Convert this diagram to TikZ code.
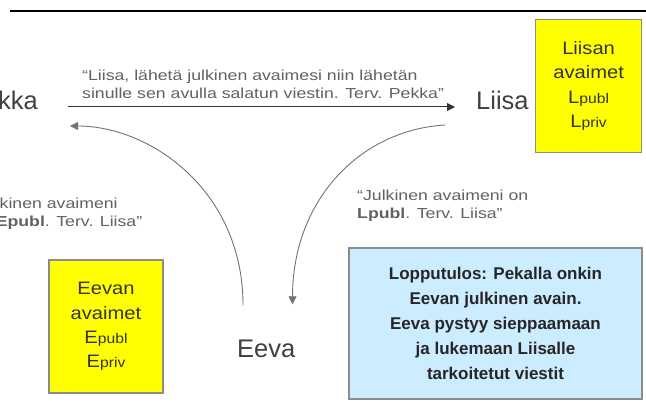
\documentclass[tikz,border=0pt]{standalone}
\usepackage{fontspec}
\setmainfont{Liberation Sans}
\newfontfamily\quotefont[FakeStretch=1.22]{Liberation Sans}
\newfontfamily\keyfont[FakeStretch=1.12]{Liberation Sans}
\usetikzlibrary{arrows.meta,positioning}
\definecolor{keyyellow}{HTML}{FFFF00}
\definecolor{resultblue}{HTML}{CCECFF}
\definecolor{framegray}{HTML}{8C8C8C}
\newcommand{\keyidx}[1]{{\fontsize{14}{14}\selectfont #1}}

\begin{document}
\begin{tikzpicture}[x=1pt,y=-1pt,>={Triangle[length=8pt,width=8pt]}, every node/.style={inner sep=0pt}]
\tikzstyle{person}=[font=\fontsize{25.5}{30}\selectfont,text=black!75]
\tikzstyle{quote}=[font=\quotefont\fontsize{14.5}{18}\selectfont,text=black!62,align=left]
\tikzstyle{keybox}=[draw=framegray,line width=1.5pt,fill=keyyellow,align=center,minimum height=133pt,font=\keyfont\fontsize{18}{24.3}\selectfont,text=black!80]
\tikzstyle{resultbox}=[draw=framegray,line width=1.5pt,fill=resultblue,align=center,minimum width=293pt,minimum height=151pt,font=\bfseries\fontsize{17}{25}\selectfont,text=black!85]
\useasboundingbox (0,0) rectangle (646,406);
\clip (0,0) rectangle (646,406);
\draw[line width=2pt] (10,11) -- (646,11);

% osapuolet
\node[person,anchor=base east] (pekka) at (38,110) {Pekka};
\node[person,anchor=base west] (liisa) at (476,110) {Liisa};
\node[person,anchor=base west] (eeva) at (237,358) {Eeva};

% avaimet
\node[keybox,minimum width=106pt,right=6pt of liisa,yshift=15pt] (lkeys) {Liisan\\avaimet\\L\keyidx{publ}\\L\keyidx{priv}};
\node[keybox,minimum width=114pt] (ekeys) at (106,326.5) {Eevan\\avaimet\\E\keyidx{publ}\\E\keyidx{priv}};

% viestit
\node[quote,anchor=north west] (pyynto) at (82,69.4) {“Liisa, lähetä julkinen avaimesi niin lähetän\\sinulle sen avulla salatun viestin. Terv. Pekka”};
\node[quote,anchor=north west] (vastausE) at (-29,197.4) {“Julkinen avaimeni\\on \textbf{Epubl}. Terv. Liisa”};
\node[quote,anchor=north west] (vastausL) at (357,189.4) {“Julkinen avaimeni on\\\textbf{Lpubl}. Terv. Liisa”};

\node[resultbox] (tulos) at (495.5,323.5) {Lopputulos: Pekalla onkin\\Eevan julkinen avain.\\Eeva pystyy sieppaamaan\\ja lukemaan Liisalle\\tarkoitetut viestit};

\draw[->,black!80,line width=1pt] ([xshift=30pt,yshift=3pt]pekka.base east) -- ([xshift=-21pt,yshift=3pt]liisa.base west);
\draw[->,black!55,line width=0.9pt] ([xshift=6pt,yshift=35pt]eeva.north west) .. controls +(0,-115) and +(80,0) .. ([xshift=32pt,yshift=-16pt]pekka.base east);
\draw[->,black!55,line width=0.9pt] ([xshift=-31pt,yshift=-15pt]liisa.base west) .. controls +(-85,5) and +(0,-104) .. ([xshift=-3pt,yshift=36pt]eeva.north east);
\end{tikzpicture}
\end{document}
